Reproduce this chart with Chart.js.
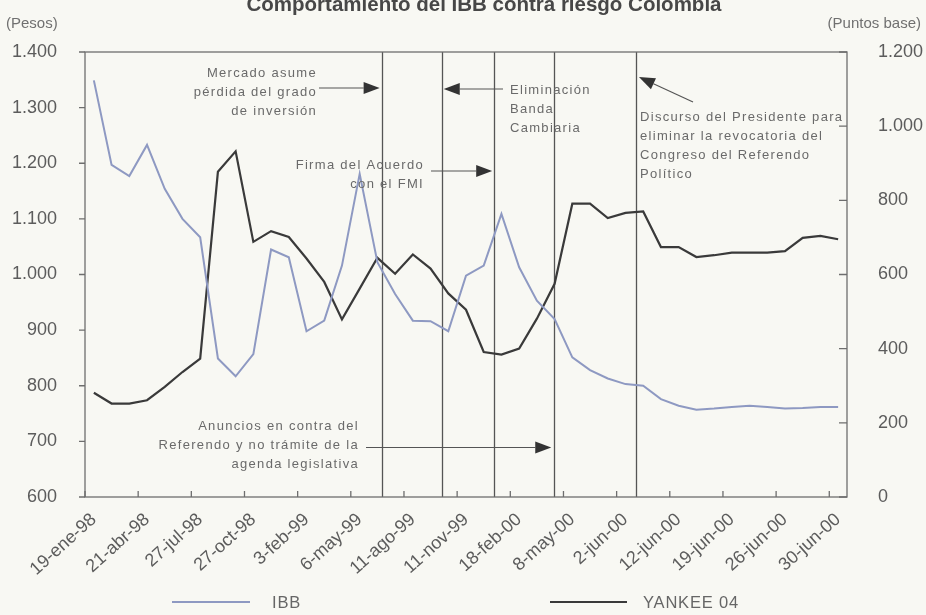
<!DOCTYPE html>
<html>
<head>
<meta charset="utf-8">
<script src="https://cdn.jsdelivr.net/npm/chart.js@4/dist/chart.umd.min.js"></script>
<style>
  html, body { margin: 0; padding: 0; background: #f8f8f3; }
  canvas { display: block; }
</style>
</head>
<body>
<canvas id="c" width="926" height="615"></canvas>
<script>
// Labels shown on the time axis (one every third observation)
const tickLabels = ['19-ene-98', '21-abr-98', '27-jul-98', '27-oct-98', '3-feb-99', '6-may-99',
  '11-ago-99', '11-nov-99', '18-feb-00', '8-may-00', '2-jun-00', '12-jun-00', '19-jun-00',
  '26-jun-00', '30-jun-00'];

// IBB, in pesos (left axis)
const ibb = [1349, 1197, 1177, 1233, 1154, 1100, 1067, 849, 817, 857, 1045, 1031, 898, 917,
  1016, 1181, 1022, 965, 917, 916, 898, 998, 1016, 1109, 1013, 953, 920, 851, 828, 813, 803,
  800, 776, 764, 757, 759, 762, 764, 762, 759, 760, 762, 762];

// YANKEE 04 spread, in basis points (right axis)
const yankee = [281, 252, 252, 261, 297, 337, 373, 877, 932, 688, 717, 701, 643, 580, 479,
  562, 645, 602, 654, 616, 549, 505, 391, 384, 400, 481, 575, 791, 791, 752, 766, 770, 674,
  674, 647, 652, 659, 659, 659, 663, 699, 704, 695];

// Political / market events, as positions along the observation index
const eventPos = [16.24, 19.63, 22.59, 25.98, 30.59];

// One category per observation; only every third one carries a label
const LABEL_STEP = 3;
const categories = ibb.map((_, i) => (i % LABEL_STEP === 0 ? tickLabels[i / LABEL_STEP] : ''));

const FONT = "'Liberation Sans', Arial, Helvetica, sans-serif";
const TEXT = '#5c5c5c';
const NOTE = '#6a6a6a';
const FRAME = '#6e6e6e';

function fmtThousands(v) {
  return v >= 1000 ? Math.floor(v / 1000) + '.' + String(v % 1000).padStart(3, '0') : String(v);
}

// Event notes: text block plus an arrow pointing at an event line
const notes = [
  { lines: ['Mercado asume', 'pérdida del grado', 'de inversión'], align: 'right', x: 317, y: 73,
    arrow: { x: 319, y: 88, event: 0, dx: -2 } },
  { lines: ['Eliminación', 'Banda', 'Cambiaria'], align: 'left', x: 510, y: 90.5,
    arrow: { x: 503, y: 89, event: 1, dx: 2 } },
  { lines: ['Firma del Acuerdo', 'con el FMI'], align: 'right', x: 424, y: 165.5,
    arrow: { x: 431, y: 171, event: 2, dx: -2 } },
  { lines: ['Anuncios en contra del', 'Referendo y no trámite de la', 'agenda legislativa'],
    align: 'right', x: 359, y: 426, arrow: { x: 366, y: 447.5, event: 3, dx: -3 } },
  { lines: ['Discurso del Presidente para', 'eliminar la revocatoria del', 'Congreso del Referendo', 'Político'],
    align: 'left', x: 640, y: 117, arrow: { x: 693, y: 102, event: 4, dx: 3, ty: 77 } }
];

function arrow(ctx, x1, y1, x2, y2) {
  const len = 16, half = 6;
  const ang = Math.atan2(y2 - y1, x2 - x1);
  const bx = x2 - len * Math.cos(ang), by = y2 - len * Math.sin(ang);
  ctx.beginPath();
  ctx.moveTo(x1, y1);
  ctx.lineTo(bx, by);
  ctx.stroke();
  ctx.beginPath();
  ctx.moveTo(x2, y2);
  ctx.lineTo(bx + half * Math.sin(ang), by - half * Math.cos(ang));
  ctx.lineTo(bx - half * Math.sin(ang), by + half * Math.cos(ang));
  ctx.closePath();
  ctx.fill();
}

const decorations = {
  id: 'decorations',
  beforeDatasetsDraw(chart) {
    const { ctx, chartArea: a, scales } = chart;
    ctx.save();
    ctx.strokeStyle = '#555';
    ctx.lineWidth = 1.3;
    eventPos.forEach(p => {
      const x = Math.round(scales.x.getPixelForValue(p)) + 0.5;
      ctx.beginPath();
      ctx.moveTo(x, a.top);
      ctx.lineTo(x, a.bottom);
      ctx.stroke();
    });
    ctx.restore();
  },
  afterDraw(chart) {
    const { ctx, chartArea: a, scales } = chart;
    ctx.save();

    // plot frame and tick marks
    ctx.strokeStyle = FRAME;
    ctx.lineWidth = 1.3;
    ctx.strokeRect(a.left, a.top, a.right - a.left, a.bottom - a.top);
    ctx.beginPath();
    for (let v = 600; v <= 1400; v += 100) {
      const y = scales.y.getPixelForValue(v);
      ctx.moveTo(a.left - 6, y); ctx.lineTo(a.left, y);
    }
    for (let v = 0; v <= 1200; v += 200) {
      const y = scales.y2.getPixelForValue(v);
      ctx.moveTo(a.right - 8, y); ctx.lineTo(a.right, y);
    }
    for (let i = 0; i < categories.length; i += LABEL_STEP) {
      const x = scales.x.getPixelForValue(i - 0.5);
      ctx.moveTo(x, a.bottom - 6); ctx.lineTo(x, a.bottom);
    }
    ctx.stroke();

    // title and axis units
    ctx.fillStyle = '#474747';
    ctx.font = 'bold 20.5px ' + FONT;
    ctx.textAlign = 'center';
    ctx.textBaseline = 'alphabetic';
    ctx.fillText('Comportamiento del IBB contra riesgo Colombia', 484, 11);

    ctx.fillStyle = '#707070';
    ctx.font = '15px ' + FONT;
    ctx.textBaseline = 'middle';
    ctx.textAlign = 'left';
    ctx.fillText('(Pesos)', 6, 24);
    ctx.textAlign = 'right';
    ctx.fillText('(Puntos base)', 921, 24);

    // event notes
    ctx.font = '13px ' + FONT;
    ctx.letterSpacing = '1.3px';
    ctx.fillStyle = NOTE;
    notes.forEach(n => {
      ctx.textAlign = n.align;
      n.lines.forEach((t, k) => ctx.fillText(t, n.x, n.y + k * 19.2));
    });
    ctx.letterSpacing = '0px';
    ctx.strokeStyle = '#555';
    ctx.fillStyle = '#333';
    ctx.lineWidth = 1.2;
    notes.forEach(n => {
      const ev = scales.x.getPixelForValue(eventPos[n.arrow.event]);
      const ty = n.arrow.ty !== undefined ? n.arrow.ty : n.arrow.y;
      arrow(ctx, n.arrow.x, n.arrow.y, ev + n.arrow.dx, ty);
    });

    // legend
    ctx.font = '16.5px ' + FONT;
    ctx.letterSpacing = '0.8px';
    ctx.textAlign = 'left';
    ctx.textBaseline = 'middle';
    const legendPos = [{ x1: 172, x2: 250, tx: 272 }, { x1: 550, x2: 627, tx: 643 }];
    chart.data.datasets.forEach((ds, i) => {
      const p = legendPos[i];
      ctx.strokeStyle = ds.borderColor;
      ctx.lineWidth = 2;
      ctx.beginPath();
      ctx.moveTo(p.x1, 602); ctx.lineTo(p.x2, 602);
      ctx.stroke();
      ctx.fillStyle = '#666';
      ctx.fillText(ds.label, p.tx, 603);
    });
    ctx.restore();
  }
};

const tickFont = { family: FONT, size: 18 };

new Chart(document.getElementById('c'), {
  type: 'line',
  data: {
    labels: categories,
    datasets: [
      { label: 'IBB', data: ibb, yAxisID: 'y', borderColor: '#8e99c2', borderWidth: 2,
        pointRadius: 0, tension: 0 },
      { label: 'YANKEE 04', data: yankee, yAxisID: 'y2', borderColor: '#3a3a3a', borderWidth: 2.2,
        pointRadius: 0, tension: 0 }
    ]
  },
  options: {
    responsive: false,
    animation: false,
    devicePixelRatio: 1,
    layout: { padding: { top: 52, left: 0, right: 0, bottom: 0 } },
    plugins: { legend: { display: false }, title: { display: false }, tooltip: { enabled: false } },
    scales: {
      x: {
        type: 'category', offset: true,
        grid: { display: false }, border: { display: false },
        ticks: { autoSkip: false, maxRotation: 42, minRotation: 42, padding: 4, color: TEXT,
          font: tickFont, callback: (v, i) => categories[i] },
        afterFit(s) { s.height = 118; }
      },
      y: {
        position: 'left', min: 600, max: 1400,
        grid: { display: false }, border: { display: false },
        ticks: { stepSize: 100, padding: 20, color: TEXT, font: tickFont, callback: v => fmtThousands(v) },
        afterFit(s) { s.width = 85; }
      },
      y2: {
        position: 'right', min: 0, max: 1200,
        grid: { display: false }, border: { display: false },
        ticks: { stepSize: 200, padding: 23, color: TEXT, font: tickFont, callback: v => fmtThousands(v) },
        afterFit(s) { s.width = 79; }
      }
    }
  },
  plugins: [decorations]
});
</script>
</body>
</html>
